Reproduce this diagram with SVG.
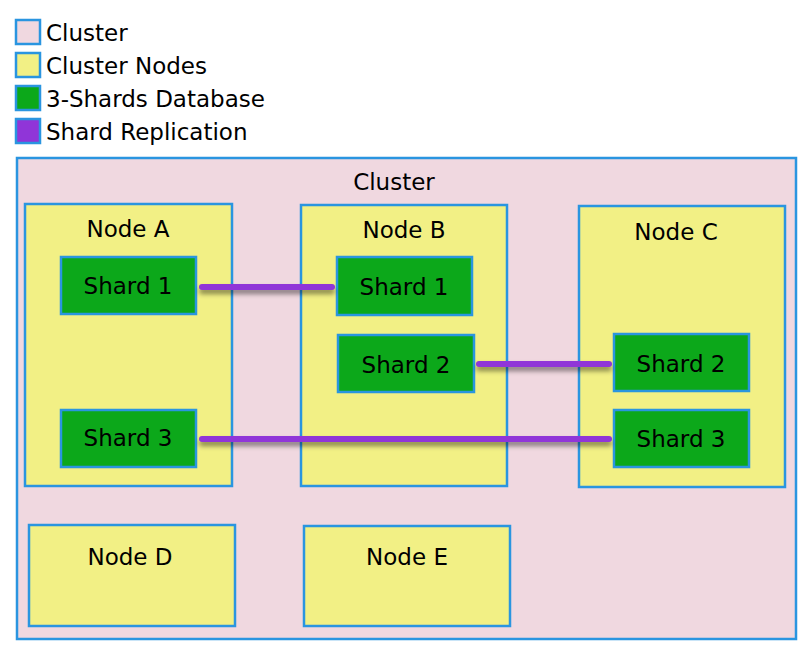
<svg xmlns="http://www.w3.org/2000/svg" width="809" height="655" viewBox="0 0 809 655">
<defs>
<style>
text{font-family:"DejaVu Sans","Liberation Sans",sans-serif;font-size:23px;fill:#000}
.c{text-anchor:middle}
.b{stroke:#2a95e0;stroke-width:2.5}
.cl{fill:#f0d8e0}.nd{fill:#f2f085}.sh{fill:#0ca81a}.pu{fill:#9035d8}
.ln{stroke:#9035d8;stroke-width:6;stroke-linecap:round;fill:none;filter:url(#sh)}
</style>
<filter id="sh" filterUnits="userSpaceOnUse" x="0" y="0" width="809" height="655">
<feDropShadow dx="0" dy="4" stdDeviation="2.5" flood-color="#000" flood-opacity="0.45"/>
</filter>
</defs>
<rect width="809" height="655" fill="#fff"/>
<g id="legend">
<rect class="b cl" x="16" y="20" width="24" height="24"/><text x="46" y="41">Cluster</text>
<rect class="b nd" x="16" y="53" width="24" height="24"/><text x="46" y="74">Cluster Nodes</text>
<rect class="b sh" x="16" y="86" width="24" height="24"/><text x="46" y="107">3-Shards Database</text>
<rect class="b pu" x="16" y="119" width="24" height="24"/><text x="46" y="140">Shard Replication</text>
</g>
<g id="cluster"><rect class="b cl" x="17" y="158" width="779" height="481"/><text class="c" x="394" y="190">Cluster</text></g>
<g id="nodeA"><rect class="b nd" x="25" y="204" width="207" height="282"/><text class="c" x="128" y="237">Node A</text></g>
<g id="nodeB"><rect class="b nd" x="301" y="205" width="206" height="281"/><text class="c" x="404" y="238">Node B</text></g>
<g id="nodeC"><rect class="b nd" x="579" y="206" width="206" height="281"/><text class="c" x="676" y="240">Node C</text></g>
<g id="nodeD"><rect class="b nd" x="29" y="525" width="206" height="101"/><text class="c" x="130" y="565">Node D</text></g>
<g id="nodeE"><rect class="b nd" x="304" y="526" width="206" height="100"/><text class="c" x="407" y="565">Node E</text></g>
<g id="shardA1"><rect class="b sh" x="61" y="257" width="135" height="57"/><text class="c" x="128" y="294">Shard 1</text></g>
<g id="shardB1"><rect class="b sh" x="337" y="257" width="135" height="58"/><text class="c" x="404" y="295">Shard 1</text></g>
<g id="shardB2"><rect class="b sh" x="338" y="335" width="136" height="57"/><text class="c" x="406" y="373">Shard 2</text></g>
<g id="shardC2"><rect class="b sh" x="614" y="334" width="135" height="57"/><text class="c" x="681" y="372">Shard 2</text></g>
<g id="shardA3"><rect class="b sh" x="61" y="410" width="135" height="57"/><text class="c" x="128" y="446">Shard 3</text></g>
<g id="shardC3"><rect class="b sh" x="614" y="410" width="135" height="57"/><text class="c" x="681" y="447">Shard 3</text></g>
<g id="connectors">
<line class="ln" x1="202" y1="287" x2="332" y2="287"/>
<line class="ln" x1="479" y1="364" x2="609" y2="364"/>
<line class="ln" x1="202" y1="439" x2="609" y2="439"/>
</g>
</svg>
